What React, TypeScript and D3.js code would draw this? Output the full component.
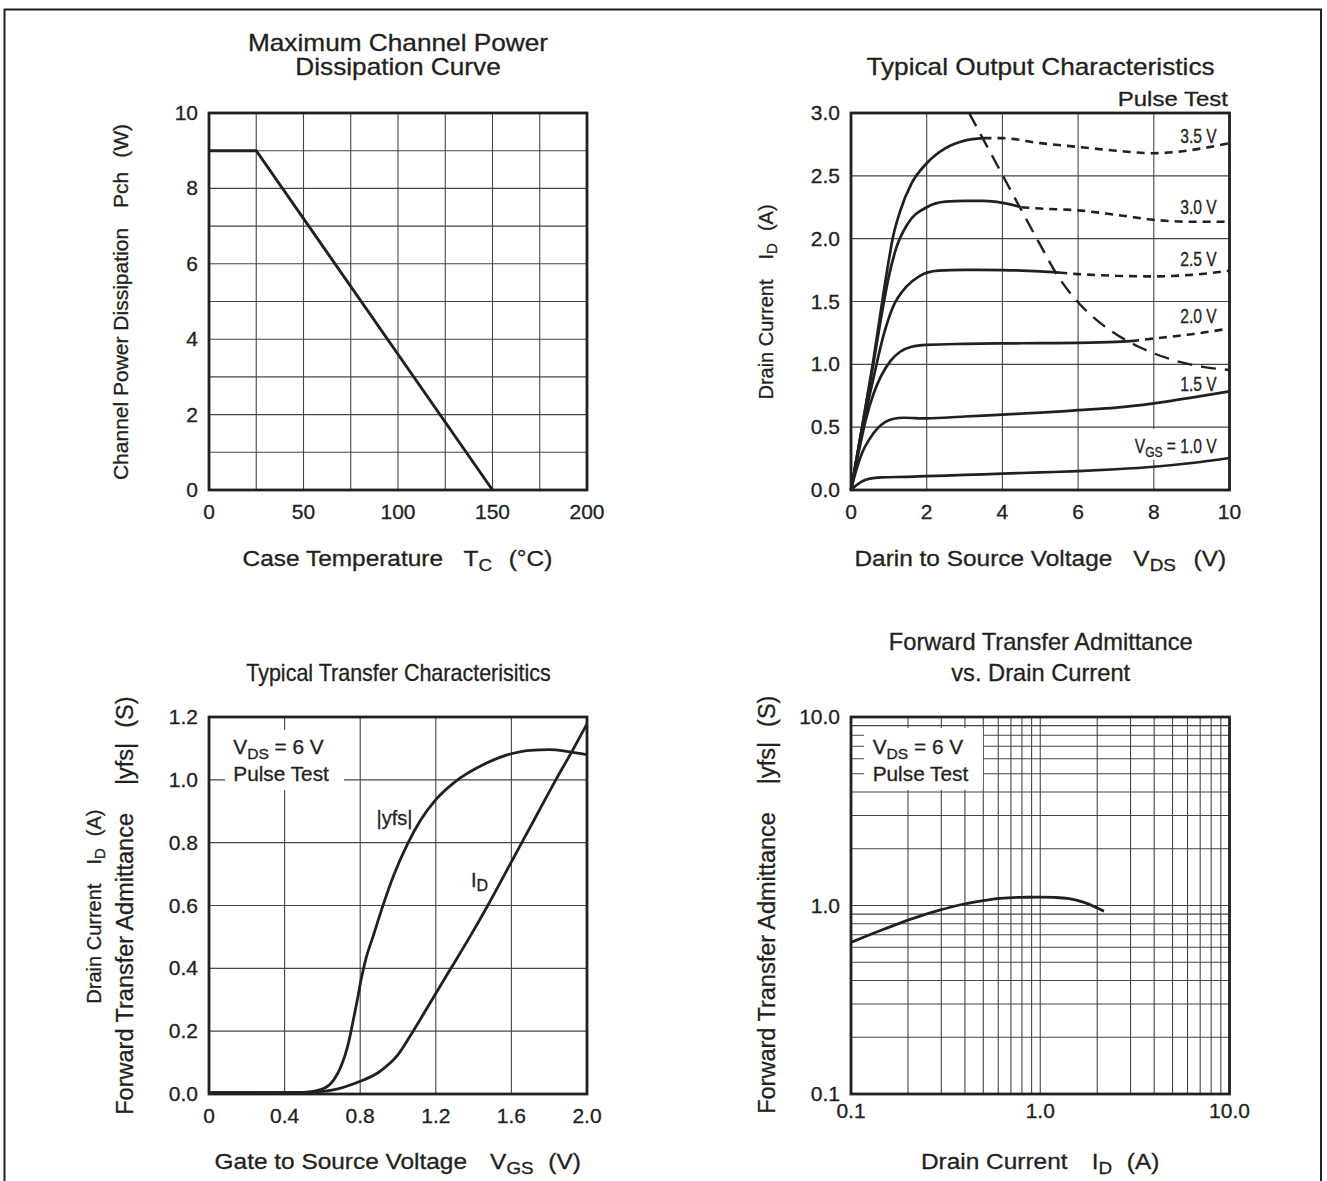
import React from 'react';
import * as d3 from 'd3';

const FONT = "'Liberation Sans', Arial, Helvetica, sans-serif";
const INK = '#231f20';
const GRID = '#454545';

type Pt = [number, number];

// Maximum Channel Power Dissipation Curve
const tcTicks = [0, 50, 100, 150, 200];
const tcGrid = [25, 50, 75, 100, 125, 150, 175];
const pchTicks = [0, 2, 4, 6, 8, 10];
const pchGrid = [1, 2, 3, 4, 5, 6, 7, 8, 9];
const pchCurve: Pt[] = [[0, 9], [25, 9], [150, 0]];

// Typical Output Characteristics (VDS, ID)
const vdsTicks = [0, 2, 4, 6, 8, 10];
const vdsGrid = [2, 4, 6, 8];
const idOutTicks = [0, 0.5, 1, 1.5, 2, 2.5, 3];
const idOutLabels = ['0.0', '0.5', '1.0', '1.5', '2.0', '2.5', '3.0'];
const idOutGrid = [0.5, 1, 1.5, 2, 2.5];
const vgs10: Pt[] = [[0, 0], [0.15, 0.04], [0.3, 0.07], [0.5, 0.09], [0.8, 0.1], [1.5, 0.105], [2, 0.11], [3, 0.12], [4, 0.13], [5, 0.14], [6, 0.15], [7, 0.165], [8, 0.185], [9, 0.215], [10, 0.255]];
const vgs15: Pt[] = [[0, 0], [0.15, 0.17], [0.3, 0.3], [0.5, 0.41], [0.7, 0.49], [0.9, 0.54], [1.1, 0.565], [1.4, 0.575], [2, 0.57], [3, 0.585], [4, 0.6], [5, 0.615], [6, 0.635], [7, 0.655], [8, 0.69], [9, 0.735], [10, 0.785]];
const vgs20: Pt[] = [[0, 0], [0.2, 0.3], [0.4, 0.57], [0.6, 0.77], [0.8, 0.91], [1.05, 1.03], [1.3, 1.1], [1.6, 1.14], [2, 1.155], [3, 1.163], [4, 1.167], [5, 1.168], [6, 1.17], [7, 1.178], [7.4, 1.185]];
const vgs20Ext: Pt[] = [[7.4, 1.185], [8, 1.205], [9, 1.24], [10, 1.285]];
const vgs25: Pt[] = [[0, 0], [0.2, 0.33], [0.4, 0.63], [0.6, 0.9], [0.85, 1.22], [1.1, 1.45], [1.47, 1.62], [1.8, 1.7], [2.3, 1.745], [3, 1.752], [4, 1.75], [5, 1.74], [5.5, 1.73]];
const vgs25Ext: Pt[] = [[5.5, 1.73], [6, 1.718], [7, 1.705], [8, 1.7], [9, 1.712], [10, 1.745]];
const vgs30: Pt[] = [[0, 0], [0.2, 0.34], [0.4, 0.68], [0.6, 1.02], [0.8, 1.38], [1.0, 1.7], [1.2, 1.93], [1.5, 2.12], [2, 2.25], [2.5, 2.295], [3, 2.3], [3.5, 2.3], [4, 2.285], [4.5, 2.25]];
const vgs30Ext: Pt[] = [[4.5, 2.25], [5, 2.24], [6, 2.225], [7, 2.19], [8, 2.15], [9, 2.135], [10, 2.135]];
const vgs35: Pt[] = [[0, 0], [0.2, 0.34], [0.4, 0.69], [0.6, 1.05], [0.8, 1.45], [1.0, 1.83], [1.1, 2.0], [1.3, 2.22], [1.6, 2.44], [2, 2.6], [2.5, 2.72], [3, 2.78], [3.5, 2.8]];
const vgs35Ext: Pt[] = [[3.5, 2.8], [4, 2.8], [5, 2.76], [6, 2.73], [7, 2.7], [8, 2.68], [8.6, 2.69], [9.3, 2.72], [10, 2.76]];
const pdLimit: Pt[] = [[3.12, 3.0], [3.8, 2.62], [4.46, 2.25], [5.0, 1.95], [5.43, 1.72], [6.04, 1.48], [6.5, 1.35], [6.9, 1.26], [7.6, 1.14], [8.45, 1.04], [9.3, 0.98], [10, 0.955]];
const vgsNames = ['3.5 V', '3.0 V', '2.5 V', '2.0 V', '1.5 V'];
const vgsNameAt = [2.76, 2.2, 1.78, 1.325, 0.787];

// Typical Transfer Characterisitics (VGS, value)
const vgsTicks = [0, 0.4, 0.8, 1.2, 1.6, 2.0];
const vgsLabels = ['0', '0.4', '0.8', '1.2', '1.6', '2.0'];
const trTicks = [0, 0.2, 0.4, 0.6, 0.8, 1.0, 1.2];
const trLabels = ['0.0', '0.2', '0.4', '0.6', '0.8', '1.0', '1.2'];
const yfsCurve: Pt[] = [[0, 0.004], [0.3, 0.004], [0.5, 0.005], [0.6, 0.016], [0.66, 0.045], [0.7, 0.09], [0.735, 0.155], [0.76, 0.225], [0.785, 0.3], [0.805, 0.365], [0.83, 0.43], [0.87, 0.505], [0.915, 0.59], [0.98, 0.7], [1.05, 0.795], [1.12, 0.872], [1.2, 0.937], [1.3, 0.993], [1.45, 1.048], [1.57, 1.078], [1.7, 1.094], [1.8, 1.096], [1.9, 1.09], [2.0, 1.08]];
const idCurve: Pt[] = [[0, 0.004], [0.4, 0.004], [0.55, 0.006], [0.65, 0.012], [0.79, 0.038], [0.9, 0.07], [1.0, 0.125], [1.08, 0.2], [1.18, 0.3], [1.28, 0.4], [1.38, 0.5], [1.475, 0.6], [1.565, 0.7], [1.655, 0.8], [1.745, 0.9], [1.835, 1.0], [1.92, 1.09], [2.0, 1.178]];

// Forward Transfer Admittance vs. Drain Current (log-log)
const logTicks = [0.1, 1, 10];
const logLabels = ['0.1', '1.0', '10.0'];
const yfsVsId: Pt[] = [[0.1, 0.637], [0.15, 0.75], [0.217, 0.86], [0.3, 0.95], [0.365, 1.0], [0.5, 1.06], [0.612, 1.09], [0.8, 1.105], [1.0, 1.107], [1.2, 1.103], [1.4, 1.09], [1.72, 1.035], [2.0, 0.97], [2.17, 0.933]];

const Label = ({ x, y, size, sx = 1, anchor = 'middle', rot = false, children }: any) => (
  <text
    transform={`translate(${x},${y}) scale(${sx},1)${rot ? ' rotate(-90)' : ''}`}
    fontSize={size}
    textAnchor={anchor}
    fontFamily={FONT}
    fill={INK}
    stroke={INK}
    strokeWidth={0.3}
  >
    {children}
  </text>
);

const Grid = ({ x, y, xs, ys }: any) => {
  const [x0, x1] = x.range();
  const [y0, y1] = y.range();
  return (
    <g stroke={GRID} strokeWidth={1.1}>
      {xs.map((v: number) => <line key={'x' + v} x1={x(v)} x2={x(v)} y1={y0} y2={y1} />)}
      {ys.map((v: number) => <line key={'y' + v} x1={x0} x2={x1} y1={y(v)} y2={y(v)} />)}
    </g>
  );
};

const Frame = ({ x, y }: any) => {
  const [x0, x1] = x.range();
  const [y0, y1] = y.range();
  return <rect x={x0} y={y1} width={x1 - x0} height={y0 - y1} fill="none" stroke={INK} strokeWidth={2.8} />;
};

const XTicks = ({ x, y, ticks, labels, dy = 29 }: any) => (
  <g>
    {ticks.map((v: number, i: number) => (
      <Label key={v} x={x(v)} y={y.range()[0] + dy} size={20} sx={1.05}>{labels[i]}</Label>
    ))}
  </g>
);

const YTicks = ({ x, y, ticks, labels }: any) => (
  <g>
    {ticks.map((v: number, i: number) => (
      <Label key={v} x={x.range()[0] - 11} y={y(v) + 7} size={20} sx={1.05} anchor="end">{labels[i]}</Label>
    ))}
  </g>
);

function pathOf(x: any, y: any, pts: Pt[], curve: any = d3.curveMonotoneX) {
  return d3.line<Pt>().x(d => x(d[0])).y(d => y(d[1])).curve(curve)(pts) || '';
}

function PowerPanel() {
  const x = d3.scaleLinear().domain([0, 200]).range([209, 587]);
  const y = d3.scaleLinear().domain([0, 10]).range([490, 113]);
  return (
    <g>
      <Grid x={x} y={y} xs={tcGrid} ys={pchGrid} />
      <Frame x={x} y={y} />
      <path d={pathOf(x, y, pchCurve, d3.curveLinear)} fill="none" stroke={INK} strokeWidth={2.9} />
      <XTicks x={x} y={y} ticks={tcTicks} labels={tcTicks.map(String)} />
      <YTicks x={x} y={y} ticks={pchTicks} labels={pchTicks.map(String)} />
      <Label x={398} y={50.8} size={23} sx={1.14}>Maximum Channel Power</Label>
      <Label x={398} y={74.5} size={23} sx={1.14}>Dissipation Curve</Label>
      <Label x={397.5} y={566} size={22} sx={1.11}>
        <tspan>Case Temperature</tspan>
        <tspan dx={18.5}>T</tspan>
        <tspan dy={5} fontSize={17}>C</tspan>
        <tspan dx={15} dy={-5}>(°C)</tspan>
      </Label>
      <Label x={128} y={302} size={21} rot>
        <tspan>Channel Power Dissipation</tspan>
        <tspan dx={20}>Pch</tspan>
        <tspan dx={14}>(W)</tspan>
      </Label>
    </g>
  );
}

function OutputPanel() {
  const x = d3.scaleLinear().domain([0, 10]).range([851, 1229.5]);
  const y = d3.scaleLinear().domain([0, 3]).range([490, 113]);
  const solid = [vgs10, vgs15, vgs20, vgs25, vgs30, vgs35];
  const dashed = [vgs20Ext, vgs25Ext, vgs30Ext, vgs35Ext];
  return (
    <g>
      <Grid x={x} y={y} xs={vdsGrid} ys={idOutGrid} />
      <rect x={1131} y={429} width={90} height={31} fill="#fff" />
      <Frame x={x} y={y} />
      {solid.map((c, i) => (
        <path key={'s' + i} d={pathOf(x, y, c)} fill="none" stroke={INK} strokeWidth={2.7} />
      ))}
      {dashed.map((c, i) => (
        <path key={'d' + i} d={pathOf(x, y, c)} fill="none" stroke={INK} strokeWidth={2.6} strokeDasharray="8 6" />
      ))}
      <path d={pathOf(x, y, pdLimit)} fill="none" stroke={INK} strokeWidth={2.4} strokeDasharray="15 9" />
      {vgsNames.map((n, i) => (
        <Label key={n} x={x(9.66)} y={y(vgsNameAt[i])} size={19.5} sx={0.8} anchor="end">{n}</Label>
      ))}
      <Label x={x(9.66)} y={y(0.291)} size={19.5} sx={0.8} anchor="end">
        <tspan>V</tspan>
        <tspan dy={4} fontSize={15}>GS</tspan>
        <tspan dy={-4}> = 1.0 V</tspan>
      </Label>
      <XTicks x={x} y={y} ticks={vdsTicks} labels={vdsTicks.map(String)} />
      <YTicks x={x} y={y} ticks={idOutTicks} labels={idOutLabels} />
      <Label x={1040.5} y={75.2} size={23} sx={1.14}>Typical Output Characteristics</Label>
      <Label x={1228} y={106} size={20} sx={1.2} anchor="end">Pulse Test</Label>
      <Label x={1040.3} y={566} size={22} sx={1.11}>
        <tspan>Darin to Source Voltage</tspan>
        <tspan dx={19}>V</tspan>
        <tspan dy={5} fontSize={17}>DS</tspan>
        <tspan dx={16} dy={-5}>(V)</tspan>
      </Label>
      <Label x={773} y={302} size={20} rot>
        <tspan>Drain Current</tspan>
        <tspan dx={20}>I</tspan>
        <tspan dy={4} fontSize={15}>D</tspan>
        <tspan dx={12} dy={-4}>(A)</tspan>
      </Label>
    </g>
  );
}

function TransferPanel() {
  const x = d3.scaleLinear().domain([0, 2]).range([209, 587]);
  const y = d3.scaleLinear().domain([0, 1.2]).range([1094, 717]);
  return (
    <g>
      <Grid x={x} y={y} xs={vgsTicks.slice(1, -1)} ys={trTicks.slice(1, -1)} />
      <rect x={225} y={730} width={119} height={60} fill="#fff" />
      <Frame x={x} y={y} />
      <path d={pathOf(x, y, yfsCurve)} fill="none" stroke={INK} strokeWidth={2.8} />
      <path d={pathOf(x, y, idCurve)} fill="none" stroke={INK} strokeWidth={2.8} />
      <XTicks x={x} y={y} ticks={vgsTicks} labels={vgsLabels} />
      <YTicks x={x} y={y} ticks={trTicks} labels={trLabels} />
      <Label x={233.3} y={754} size={20} sx={1.04} anchor="start">
        <tspan>V</tspan>
        <tspan dy={5} fontSize={15}>DS</tspan>
        <tspan dy={-5}> = 6 V</tspan>
      </Label>
      <Label x={233.3} y={781} size={20} sx={1.04} anchor="start">Pulse Test</Label>
      <Label x={394.5} y={825} size={20}>|yfs|</Label>
      <Label x={471} y={887} size={20} anchor="start">
        <tspan>I</tspan>
        <tspan dy={4} fontSize={16}>D</tspan>
      </Label>
      <Label x={398.5} y={680.5} size={23} sx={0.935}>Typical Transfer Characterisitics</Label>
      <Label x={397.7} y={1168.5} size={22} sx={1.11}>
        <tspan>Gate to Source Voltage</tspan>
        <tspan dx={20.8}>V</tspan>
        <tspan dy={5} fontSize={17}>GS</tspan>
        <tspan dx={13.2} dy={-5}>(V)</tspan>
      </Label>
      <Label x={100.6} y={906.6} size={20} rot>
        <tspan>Drain Current</tspan>
        <tspan dx={19}>I</tspan>
        <tspan dy={4} fontSize={15}>D</tspan>
        <tspan dx={12} dy={-4}>(A)</tspan>
      </Label>
      <Label x={132.5} y={905.6} size={23.5} rot>
        <tspan>Forward Transfer Admittance</tspan>
        <tspan dx={28}>|yfs|</tspan>
        <tspan dx={15}>(S)</tspan>
      </Label>
    </g>
  );
}

function AdmittancePanel() {
  const x = d3.scaleLog().domain([0.1, 10]).range([851, 1229.5]);
  const y = d3.scaleLog().domain([0.1, 10]).range([1094, 717]);
  const minor = d3.range(-1, 1).flatMap(e => d3.range(2, 11).map(k => k * Math.pow(10, e)));
  const inner = minor.filter(v => v < 9.99);
  return (
    <g>
      <Grid x={x} y={y} xs={inner} ys={inner} />
      <rect x={864} y={728} width={119} height={62} fill="#fff" />
      <Frame x={x} y={y} />
      <path d={pathOf(x, y, yfsVsId)} fill="none" stroke={INK} strokeWidth={2.8} />
      <XTicks x={x} y={y} ticks={logTicks} labels={logLabels} dy={23.7} />
      <YTicks x={x} y={y} ticks={logTicks} labels={logLabels} />
      <Label x={872.7} y={754} size={20} sx={1.04} anchor="start">
        <tspan>V</tspan>
        <tspan dy={5} fontSize={15}>DS</tspan>
        <tspan dy={-5}> = 6 V</tspan>
      </Label>
      <Label x={872.7} y={781} size={20} sx={1.04} anchor="start">Pulse Test</Label>
      <Label x={1040.7} y={650.3} size={23} sx={1.03}>Forward Transfer Admittance</Label>
      <Label x={1040.7} y={680.5} size={23} sx={1.03}>vs. Drain Current</Label>
      <Label x={1040.2} y={1168.5} size={22} sx={1.11}>
        <tspan>Drain Current</tspan>
        <tspan dx={21.8}>I</tspan>
        <tspan dy={5} fontSize={17}>D</tspan>
        <tspan dx={13.3} dy={-5}>(A)</tspan>
      </Label>
      <Label x={774.6} y={904.7} size={23.5} rot>
        <tspan>Forward Transfer Admittance</tspan>
        <tspan dx={28}>|yfs|</tspan>
        <tspan dx={15}>(S)</tspan>
      </Label>
    </g>
  );
}

export default function App() {
  return (
    <svg
      width={1327}
      height={1181}
      viewBox="0 0 1327 1181"
      style={{ position: 'absolute', left: 0, top: 0, display: 'block', background: '#fff' }}
    >
      <rect x={0} y={0} width={1327} height={1181} fill="#fff" />
      <rect x={4.5} y={9.5} width={1316.5} height={1200} fill="none" stroke={INK} strokeWidth={2} />
      <PowerPanel />
      <OutputPanel />
      <TransferPanel />
      <AdmittancePanel />
    </svg>
  );
}
